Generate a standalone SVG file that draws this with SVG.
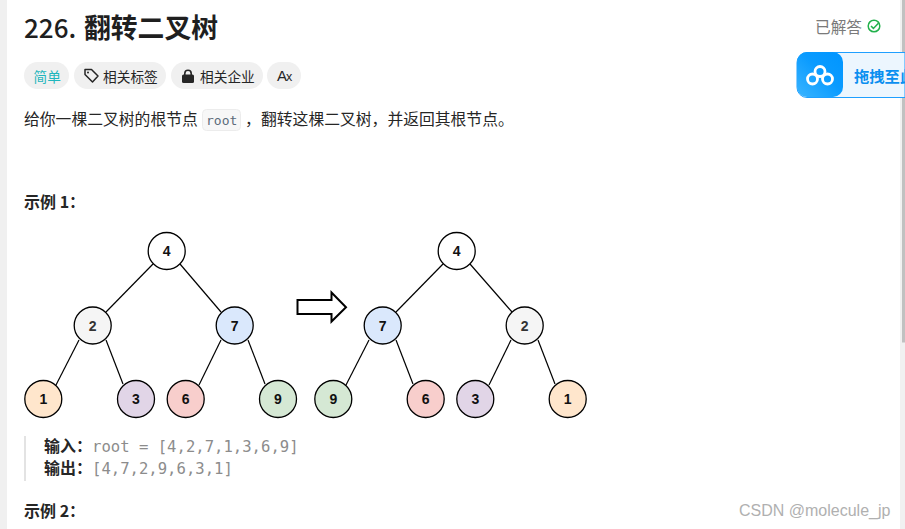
<svg xmlns="http://www.w3.org/2000/svg" width="905" height="529" viewBox="0 0 905 529">
<defs><linearGradient id="bd" x1="0" y1="1" x2="1" y2="0"><stop offset="0" stop-color="#3ab4ff"/><stop offset=".55" stop-color="#0a9bff"/><stop offset="1" stop-color="#0095ff"/></linearGradient></defs>
<style>
text{font-family:"Noto Sans CJK SC","Noto Sans",sans-serif;fill:#262626}
.n circle{stroke:#000;stroke-width:1.3}
.n text{font-family:"Liberation Sans",Arial,sans-serif;font-size:14px;font-weight:700;fill:#111;text-anchor:middle}
.c line{stroke:#000;stroke-width:1.2}
.pill{fill:#f0f0f0}
.b{font-weight:700;font-size:16px}
.m{font-family:"DejaVu Sans Mono","Liberation Mono",monospace;font-size:15.6px;fill:#8c8c8c}
.t{font-size:13.700px}
.d{font-size:15.800px}
</style>
<rect width="905" height="529" fill="#fff"/>
<rect x="0" y="0" width="7" height="529" fill="#f0f0f0"/>
<rect x="900" y="0" width="5" height="529" fill="#f1f1f1"/>
<rect x="902" y="0" width="3" height="342.500" fill="#c1c1c1"/>
<g id="header">
<text x="24" y="37.500" font-size="26" font-weight="500" style="fill:#1f1f1f">226.</text>
<text x="84" y="37.500" font-size="26.800" font-weight="700" style="fill:#1f1f1f">翻转二叉树</text>
<text x="815" y="33" font-size="15.700" style="fill:#7a7a7a">已解答</text>
<circle cx="874" cy="26" r="5.800" fill="none" stroke="#22b14c" stroke-width="1.500"/>
<path d="M871 26l2.400 2.400l5-5.200" fill="none" stroke="#22b14c" stroke-width="1.500"/>
</g>
<g id="tags">
<rect class="pill" x="24" y="62" width="45" height="27" rx="13.500"/>
<text x="33.500" y="81.500" class="t" style="fill:#1fb6bd">简单</text>
<rect class="pill" x="74" y="62" width="92" height="27" rx="13.500"/>
<path d="M85 69.500h6.500l6.500 6.500l-5.500 6l-7.500-7.500z" fill="none" stroke="#262626" stroke-width="1.500" stroke-linejoin="round"/>
<circle cx="88" cy="72.500" r="1" fill="#262626"/>
<text x="103" y="81.500" class="t">相关标签</text>
<rect class="pill" x="171" y="62" width="92" height="27" rx="13.500"/>
<rect x="182" y="74.500" width="12" height="8.500" rx="1.500" fill="#262626"/>
<path d="M184.800 75v-1.500a3.200 3.200 0 0 1 6.400 0v1.500" fill="none" stroke="#262626" stroke-width="1.600"/>
<text x="200" y="81.500" class="t">相关企业</text>
<rect class="pill" x="267" y="62" width="34" height="27" rx="13.500"/>
<text x="277" y="81" font-size="15" style="font-family:'Liberation Sans',sans-serif">A<tspan font-size="12.500" dx="-1">x</tspan></text>
</g>
<g id="baidu">
<path d="M905 52.500h-98a10 10 0 0 0-10 10v25a10 10 0 0 0 10 10h98z" fill="#ecf6fe" stroke="#1e9fff"/>
<path d="M807 52h26a10 10 0 0 1 10 10v25a10 10 0 0 1-10 10h-26a10 10 0 0 1-10-10v-25a10 10 0 0 1 10-10z" fill="url(#bd)"/>
<g fill="none" stroke="#fff" stroke-width="2.800">
<circle cx="820" cy="71.500" r="5"/><circle cx="812.500" cy="79" r="5"/><circle cx="827.500" cy="79" r="5"/>
</g>
<text x="854" y="81.500" font-size="15.300" font-weight="700" style="fill:#0a8ff0">拖拽至此</text>
</g>
<g id="desc">
<text x="24" y="125" class="d">给你一棵二叉树的根节点</text>
<rect x="202.500" y="109.500" width="38" height="21" rx="4" fill="#f7f7f7" stroke="#ececec"/>
<text x="206" y="125" style="font-family:'DejaVu Sans Mono',monospace;font-size:13px;fill:#5c6b7a">root</text>
<text x="245" y="125" class="d">，</text>
<text x="261" y="125" class="d">翻转这棵二叉树，并返回其根节点。</text>
</g>
<text id="ex1" x="24" y="208" class="b">示例 1：</text>
<g id="connectors" class="c">
<line x1="153" y1="264" x2="106" y2="312"/><line x1="180" y1="264" x2="221" y2="312"/>
<line x1="79" y1="340" x2="56" y2="385"/><line x1="106" y1="340" x2="123" y2="384"/>
<line x1="221" y1="340" x2="199" y2="385"/><line x1="248" y1="340" x2="265" y2="384"/>
<line x1="443" y1="264" x2="396" y2="312"/><line x1="470" y1="264" x2="512" y2="312"/>
<line x1="369" y1="340" x2="346" y2="385"/><line x1="396" y1="340" x2="413" y2="384"/>
<line x1="511" y1="340" x2="489" y2="385"/><line x1="538" y1="340" x2="555" y2="384"/>
</g>
<g id="l4" class="n"><circle cx="166.700" cy="251" r="18.500" fill="#fff"/><text x="166.700" y="256">4</text></g>
<g id="l2" class="n"><circle cx="92.700" cy="325.500" r="18.500" fill="#f5f5f5"/><text x="92.700" y="330.500" style="fill:#333">2</text></g>
<g id="l7" class="n"><circle cx="234.700" cy="325.500" r="18.500" fill="#dae8fc"/><text x="234.700" y="330.500">7</text></g>
<g id="l1" class="n"><circle cx="43.300" cy="399" r="18.500" fill="#ffe6cc"/><text x="43.300" y="404">1</text></g>
<g id="l3" class="n"><circle cx="136" cy="399" r="18.500" fill="#e1d5e7"/><text x="136" y="404">3</text></g>
<g id="l6" class="n"><circle cx="185.700" cy="399" r="18.500" fill="#f8cecc"/><text x="185.700" y="404">6</text></g>
<g id="l9" class="n"><circle cx="278" cy="399" r="18.500" fill="#d5e8d4"/><text x="278" y="404">9</text></g>
<g id="r4" class="n"><circle cx="456.700" cy="251" r="18.500" fill="#fff"/><text x="456.700" y="256">4</text></g>
<g id="r7" class="n"><circle cx="382.700" cy="325.500" r="18.500" fill="#dae8fc"/><text x="382.700" y="330.500">7</text></g>
<g id="r2" class="n"><circle cx="524.700" cy="325.500" r="18.500" fill="#f5f5f5"/><text x="524.700" y="330.500" style="fill:#333">2</text></g>
<g id="r9" class="n"><circle cx="333.300" cy="399" r="18.500" fill="#d5e8d4"/><text x="333.300" y="404">9</text></g>
<g id="r6" class="n"><circle cx="425.700" cy="399" r="18.500" fill="#f8cecc"/><text x="425.700" y="404">6</text></g>
<g id="r3" class="n"><circle cx="475.300" cy="399" r="18.500" fill="#e1d5e7"/><text x="475.300" y="404">3</text></g>
<g id="r1" class="n"><circle cx="567.700" cy="399" r="18.500" fill="#ffe6cc"/><text x="567.700" y="404">1</text></g>
<path id="arrow" d="M297.500 300H331.500V292.500L346 307.300L331.500 321.500V314H297.500Z" fill="#fff" stroke="#000" stroke-width="2"/>
<g id="example">
<rect x="24" y="436" width="2" height="45" fill="#e3e3e3"/>
<text x="44" y="452" class="b">输入：</text><text x="92" y="452" class="m">root = [4,2,7,1,3,6,9]</text>
<text x="44" y="474" class="b">输出：</text><text x="92" y="474" class="m">[4,7,2,9,6,3,1]</text>
</g>
<text id="ex2" x="24" y="517" class="b">示例 2：</text>
<text id="wm" x="739" y="516" style="font-family:'Liberation Sans',sans-serif;font-size:16px;fill:#b0b0b0">CSDN @molecule_jp</text>
</svg>
